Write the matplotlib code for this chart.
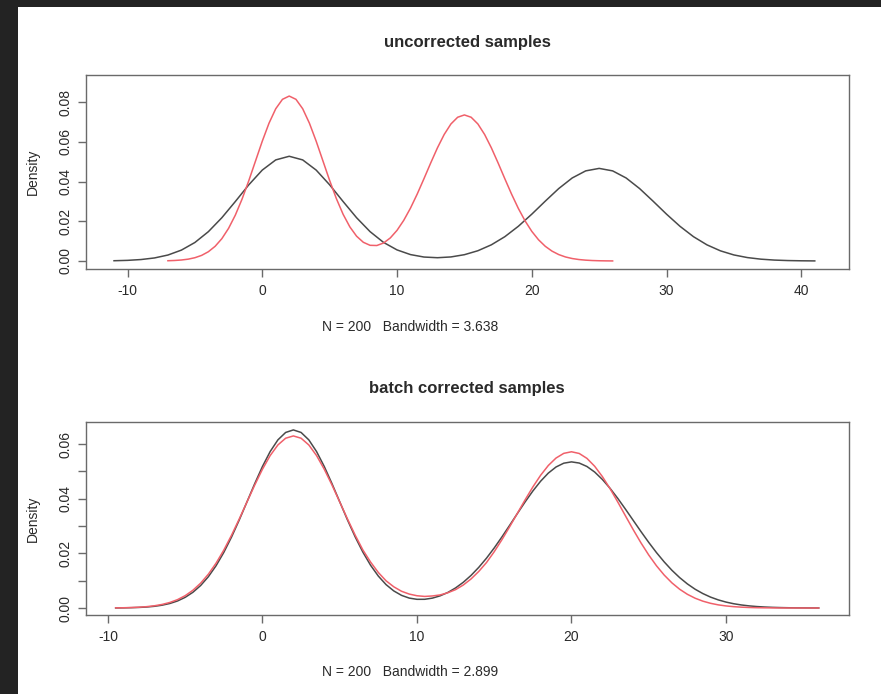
import numpy as np
import matplotlib
matplotlib.use("Agg")
import matplotlib.pyplot as plt
from matplotlib.patches import Rectangle

plt.rcParams["font.family"] = ["Liberation Sans", "DejaVu Sans"]

# ---- data (density curves) ----
# top panel: uncorrected samples
top_black_x = np.arange(-11, 42, 1.0)
top_black_y = [
    0.00013, 0.00032, 0.00073, 0.00153, 0.00300, 0.00548, 0.00931, 0.01475,
    0.02177, 0.02992, 0.03833, 0.04575, 0.05087, 0.05270, 0.05087, 0.04575,
    0.03833, 0.02992, 0.02177, 0.01477, 0.00935, 0.00558, 0.00322, 0.00199,
    0.00165, 0.00204, 0.00317, 0.00516, 0.00814, 0.01223, 0.01745, 0.02356,
    0.03011, 0.03645, 0.04178, 0.04535, 0.04660, 0.04535, 0.04178, 0.03645,
    0.03011, 0.02356, 0.01745, 0.01223, 0.00812, 0.00511, 0.00304, 0.00172,
    0.00092, 0.00046, 0.00022, 0.00010, 0.00004,
]
top_red_x = np.arange(-7, 26.5, 0.5)
top_red_y = [
    0.00013, 0.00026, 0.00050, 0.00092, 0.00165, 0.00282, 0.00466, 0.00738,
    0.01123, 0.01643, 0.02307, 0.03115, 0.04040, 0.05034, 0.06027, 0.06933,
    0.07662, 0.08136, 0.08300, 0.08136, 0.07662, 0.06933, 0.06030, 0.05040,
    0.04052, 0.03138, 0.02349, 0.01716, 0.01247, 0.00941, 0.00789, 0.00779,
    0.00905, 0.01160, 0.01542, 0.02047, 0.02662, 0.03371, 0.04143, 0.04934,
    0.05695, 0.06367, 0.06896, 0.07234, 0.07350, 0.07234, 0.06896, 0.06367,
    0.05695, 0.04934, 0.04140, 0.03365, 0.02649, 0.02021, 0.01492, 0.01068,
    0.00740, 0.00497, 0.00323, 0.00203, 0.00124, 0.00073, 0.00042, 0.00023,
    0.00012, 0.00006, 0.00003,
]

# bottom panel: batch corrected samples
bot_x = np.arange(-9.5, 36.5, 0.5)
bot_black_y = [
    0.00003, 0.00006, 0.00012, 0.00021, 0.00036, 0.00062, 0.00103, 0.00165,
    0.00257, 0.00391, 0.00576, 0.00824, 0.01147, 0.01550, 0.02037, 0.02600,
    0.03225, 0.03888, 0.04553, 0.05181, 0.05729, 0.06156, 0.06427, 0.06520,
    0.06427, 0.06156, 0.05729, 0.05181, 0.04553, 0.03890, 0.03228, 0.02605,
    0.02045, 0.01563, 0.01168, 0.00856, 0.00625, 0.00463, 0.00363, 0.00318,
    0.00319, 0.00362, 0.00446, 0.00570, 0.00736, 0.00943, 0.01194, 0.01489,
    0.01825, 0.02199, 0.02604, 0.03029, 0.03461, 0.03885, 0.04284, 0.04641,
    0.04939, 0.05163, 0.05302, 0.05350, 0.05307, 0.05181, 0.04978, 0.04706,
    0.04379, 0.04010, 0.03613, 0.03204, 0.02796, 0.02401, 0.02029, 0.01688,
    0.01381, 0.01113, 0.00882, 0.00688, 0.00529, 0.00399, 0.00297, 0.00217,
    0.00156, 0.00111, 0.00077, 0.00053, 0.00036, 0.00024, 0.00016, 0.00010,
    0.00006, 0.00004, 0.00002, 0.00001,
]
bot_red_y = [
    0.00005, 0.00009, 0.00017, 0.00029, 0.00049, 0.00081, 0.00130, 0.00202,
    0.00306, 0.00452, 0.00650, 0.00910, 0.01239, 0.01644, 0.02121, 0.02666,
    0.03262, 0.03884, 0.04503, 0.05081, 0.05582, 0.05970, 0.06216, 0.06300,
    0.06216, 0.05970, 0.05582, 0.05081, 0.04503, 0.03884, 0.03263, 0.02668,
    0.02124, 0.01680, 0.01299, 0.00996, 0.00776, 0.00613, 0.00510, 0.00449,
    0.00424, 0.00441, 0.00479, 0.00559, 0.00673, 0.00843, 0.01064, 0.01339,
    0.01665, 0.02061, 0.02503, 0.02977, 0.03469, 0.03962, 0.04432, 0.04858,
    0.05218, 0.05491, 0.05662, 0.05720, 0.05658, 0.05478, 0.05190, 0.04811,
    0.04366, 0.03876, 0.03367, 0.02863, 0.02382, 0.01940, 0.01546, 0.01206,
    0.00920, 0.00687, 0.00502, 0.00359, 0.00251, 0.00172, 0.00115, 0.00076,
    0.00049, 0.00031, 0.00019, 0.00011, 0.00007, 0.00004, 0.00002, 0.00001,
    0.00001, 0.0, 0.0, 0.0,
]

top_xticks = [-10, 0, 10, 20, 30, 40]
top_yticks = [0.00, 0.02, 0.04, 0.06, 0.08]
bot_xticks = [-10, 0, 10, 20, 30]
bot_yticks = [0.00, 0.01, 0.02, 0.03, 0.04, 0.05, 0.06]
bot_ylabels = ["0.00", "", "0.02", "", "0.04", "", "0.06"]

BLACK = "#4a4a4a"
RED = "#f0606a"
AXC = "#6a6a6a"
TXT = "#2a2a2a"

W, H = 881, 694
fig = plt.figure(figsize=(W / 100, H / 100), dpi=100)
fig.patch.set_facecolor("#232323")
# white page area (the reference is a screenshot with a dark frame top/left)
fig.patches.append(Rectangle((18 / W, 0), 1 - 18 / W, 1 - 7 / H,
                             transform=fig.transFigure, facecolor="white",
                             edgecolor="none", zorder=-10))


def px_axes(left, top, right, bottom):
    ax = fig.add_axes([left / W, 1 - bottom / H, (right - left) / W, (bottom - top) / H])
    ax.set_facecolor("white")
    ax.set_zorder(1)
    return ax


def style(ax, xticks, yticks, ylabels=None):
    ax.set_xticks(xticks)
    ax.set_xticklabels([str(t) for t in xticks])
    ax.set_yticks(yticks)
    if ylabels is None:
        ylabels = [f"{t:.2f}" for t in yticks]
    ax.set_yticklabels(ylabels, rotation=90, va="center")
    for s in ax.spines.values():
        s.set_color(AXC)
        s.set_linewidth(1.0)
    ax.tick_params(length=6, width=1.0, color=AXC, labelsize=10, labelcolor=TXT,
                   direction="out")
    ax.tick_params(axis="x", pad=5)
    ax.tick_params(axis="y", pad=4)
    ax.set_ylabel("Density", fontsize=10, color=TXT)
    ax.yaxis.set_label_coords(-46 / 763, 0.5)


# top panel
ax1 = px_axes(86, 75, 849, 269)
ax1.plot(top_black_x, top_black_y, color=BLACK, lw=1.1)
ax1.plot(top_red_x, top_red_y, color=RED, lw=1.1)
ax1.set_xlim(-13.08, 43.54)
ax1.set_ylim(-0.00403, 0.0936)
style(ax1, top_xticks, top_yticks)
fig.text(467 / W, 1 - 42 / H, "uncorrected samples", ha="center", va="center",
         fontsize=12, fontweight="bold", color=TXT)
fig.text(410 / W, 1 - 327 / H, "N = 200   Bandwidth = 3.638", ha="center", va="center",
         fontsize=10, color=TXT)

# bottom panel
ax2 = px_axes(86, 422, 849, 615)
ax2.plot(bot_x, bot_black_y, color=BLACK, lw=1.1)
ax2.plot(bot_x, bot_red_y, color=RED, lw=1.1)
ax2.set_xlim(-11.42, 37.96)
ax2.set_ylim(-0.00256, 0.0681)
style(ax2, bot_xticks, bot_yticks, bot_ylabels)
fig.text(467 / W, 1 - 389 / H, "batch corrected samples", ha="center", va="center",
         fontsize=12, fontweight="bold", color=TXT)
fig.text(410 / W, 1 - 672 / H, "N = 200   Bandwidth = 2.899", ha="center", va="center",
         fontsize=10, color=TXT)

fig.savefig("out.png", dpi=100, facecolor=fig.get_facecolor())
